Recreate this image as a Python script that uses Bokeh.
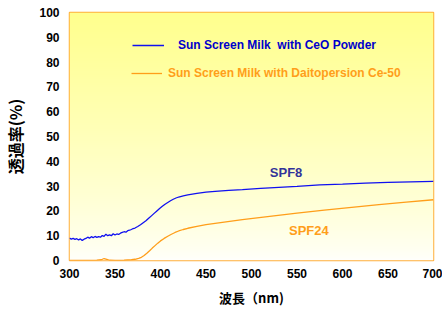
import numpy as np
from bokeh.plotting import figure
from bokeh.models import Range1d, Legend, LegendItem, Label, FixedTicker
from bokeh.embed import file_html
from bokeh.resources import INLINE

# ---- data ----
blue_x = [300, 302, 304, 306, 308, 310, 312, 314, 316, 318, 320, 322, 324, 326, 328,
          330, 332, 334, 336, 338, 340, 342, 344, 346, 348, 350, 352, 354, 356, 358,
          360, 362, 364, 366, 368, 370, 372, 375, 378, 381, 384, 387, 390, 393, 396,
          399, 402, 405, 408, 411, 414, 417, 420, 425, 430, 440, 450, 460, 475, 490,
          510, 530, 550, 575, 600, 625, 650, 675, 700]
blue_y = [9.0, 8.6, 8.9, 8.5, 8.8, 8.3, 8.7, 8.1, 8.6, 8.9, 9.4, 9.0, 9.6, 9.2, 9.7,
          9.3, 9.6, 9.4, 10.1, 9.7, 10.6, 10.0, 10.3, 10.0, 10.8, 10.3, 10.7, 10.5, 11.0, 11.3,
          11.6, 11.4, 12.0, 12.2, 12.5, 12.9, 13.1, 13.7, 14.4, 15.2, 16.0, 17.0, 18.0, 19.0, 20.0,
          21.0, 21.9, 22.7, 23.4, 24.1, 24.7, 25.2, 25.6, 26.1, 26.5, 27.1, 27.6, 27.9, 28.3, 28.6,
          29.1, 29.5, 29.9, 30.5, 30.8, 31.2, 31.5, 31.7, 31.9]

orange_x = [300, 320, 330, 335, 338, 341, 344, 350, 360, 368, 372, 376, 379, 382, 385,
            388, 391, 394, 397, 400, 404, 408, 412, 416, 420, 425, 430, 440, 450, 470,
            490, 520, 550, 580, 610, 640, 670, 700]
orange_y = [0.0, 0.0, 0.1, 0.3, 0.8, 0.5, 0.1, 0.0, 0.1, 0.3, 0.5, 0.9, 1.3, 2.0, 2.9,
            3.9, 5.0, 6.0, 7.0, 7.9, 8.9, 9.8, 10.6, 11.3, 11.9, 12.5, 13.0, 13.8, 14.5, 15.5,
            16.5, 17.8, 19.1, 20.3, 21.4, 22.5, 23.5, 24.5]

x_ticks = [300, 350, 400, 450, 500, 550, 600, 650, 700]
y_ticks = [0, 10, 20, 30, 40, 50, 60, 70, 80, 90, 100]

blue_name = "Sun Screen Milk  with CeO Powder"
orange_name = "Sun Screen Milk with Daitopersion Ce-50"

BLUE = "#1010F0"
ORANGE = "#FF9E1A"

p = figure(width=442, height=309, output_backend="svg", toolbar_location=None,
           x_range=Range1d(300, 700), y_range=Range1d(0, 100),
           min_border_left=67, min_border_right=9, min_border_top=12, min_border_bottom=47)
p.background_fill_color = "white"
p.border_fill_color = "white"
p.grid.visible = False

# background gradient (yellow top -> near white bottom)
n = 120
t = np.linspace(0, 1, n)
img = np.zeros((n, 1), dtype=np.uint32)
view = img.view(dtype=np.uint8).reshape((n, 1, 4))
view[:, 0, 0] = 255
view[:, 0, 1] = 255
view[:, 0, 2] = (252 - 110 * t ** 0.75).astype(np.uint8)
view[:, 0, 3] = 255
p.image_rgba(image=[img], x=300, y=0, dw=400, dh=100)

r_blue = p.line(blue_x, blue_y, line_color=BLUE, line_width=1.3)
r_orange = p.line(orange_x, orange_y, line_color=ORANGE, line_width=1.3)

p.outline_line_color = "#FFAE3A"
p.outline_line_width = 1.5

for ax in (p.xaxis[0], p.yaxis[0]):
    ax.axis_line_color = None
    ax.major_tick_line_color = None
    ax.minor_tick_line_color = None
    ax.major_tick_out = 0
    ax.major_tick_in = 0
    ax.minor_tick_out = 0
    ax.minor_tick_in = 0
    ax.major_label_text_font = "Liberation Sans"
    ax.major_label_text_font_style = "bold"
    ax.major_label_text_font_size = "12px"
    ax.major_label_text_color = "black"
    ax.axis_label_text_font = "Noto Sans CJK JP"
    ax.axis_label_text_font_style = "bold"
    ax.axis_label_text_color = "black"

p.xaxis.axis_label_text_font_size = "13px"
p.yaxis.axis_label_text_font_size = "16px"
p.xaxis.ticker = FixedTicker(ticks=x_ticks)
p.yaxis.ticker = FixedTicker(ticks=y_ticks)
p.xaxis.major_label_standoff = 8
p.yaxis.major_label_standoff = 10
p.xaxis.axis_label = "波長（nm)"
p.yaxis.axis_label = "透過率(%)"
p.xaxis.axis_label_standoff = 7
p.yaxis.axis_label_standoff = 9

# two legends, each with its own text colour
def make_legend(name, renderer, color, loc, standoff, gw):
    lg = Legend(items=[LegendItem(label=name, renderers=[renderer])],
                location=loc, padding=0, margin=0, spacing=0,
                glyph_width=gw, glyph_height=16, label_standoff=standoff,
                border_line_color=None, background_fill_color=None,
                label_text_font="Liberation Sans", label_text_font_style="bold",
                label_text_font_size="12px", label_text_color=color,
                label_height=16)
    p.add_layout(lg)

make_legend(orange_name, r_orange, ORANGE, (62, 179), 6, 31)
make_legend(blue_name, r_blue, "#0000CC", (63, 207), 14, 32)

p.add_layout(Label(x=538, y=35.6, text="SPF8", text_align="center", text_baseline="middle",
                   text_font="Liberation Sans", text_font_style="bold",
                   text_font_size="13px", text_color="#333399"))
p.add_layout(Label(x=563, y=12, text="SPF24", text_align="center", text_baseline="middle",
                   text_font="Liberation Sans", text_font_style="bold",
                   text_font_size="13px", text_color=ORANGE))

open("out.html", "w").write(file_html(p, INLINE))
